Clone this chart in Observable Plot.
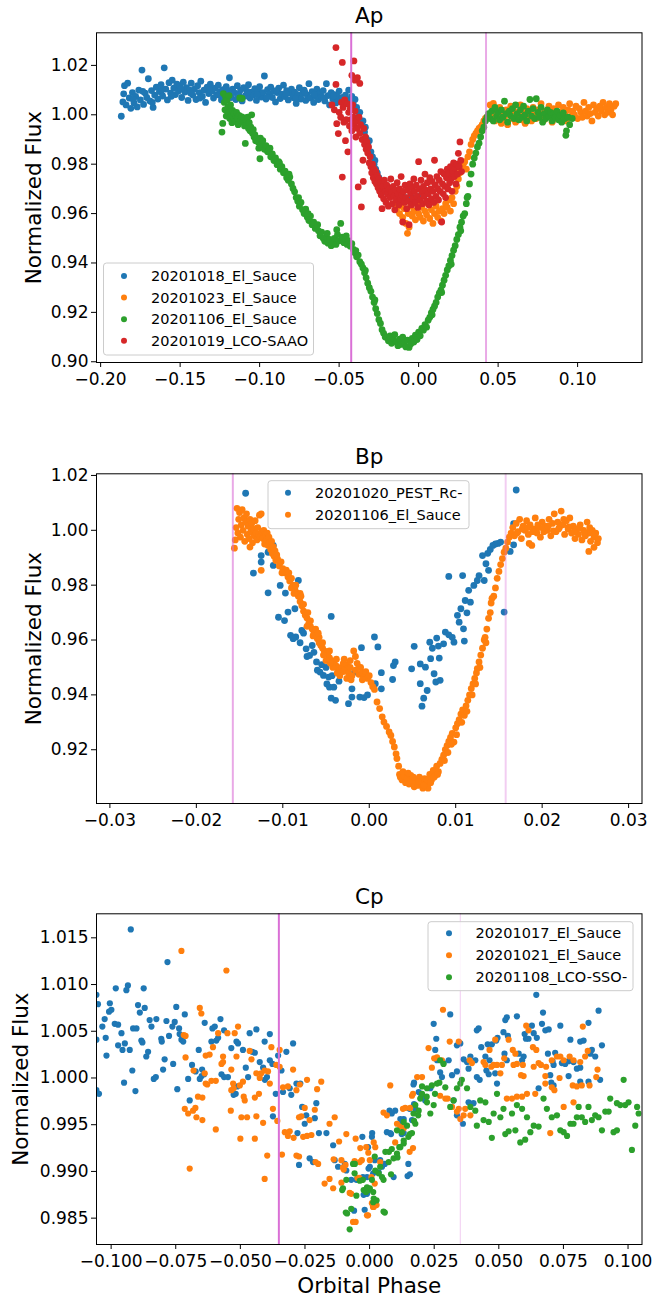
<!DOCTYPE html>
<html><head><meta charset="utf-8">
<script src="https://cdn.jsdelivr.net/npm/d3@7"></script>
<script src="https://cdn.jsdelivr.net/npm/@observablehq/plot@0.6"></script>
<style>body{margin:0;background:#fff}#chart svg{display:block}</style>
</head><body><div id="chart"></div>
<script>
// ---------- Panel Ap ----------
const apTitle = "Ap";
const apLabels = ["20201018_El_Sauce","20201023_El_Sauce","20201106_El_Sauce","20201019_LCO-SAAO"];
const apXTicks = [-0.20,-0.15,-0.10,-0.05,0.00,0.05,0.10];
const apYTicks = [0.90,0.92,0.94,0.96,0.98,1.00,1.02];
const apLines = [-0.0424, 0.0424];
const apBlue = [[-0.187,0.9994],[-0.186,1.0052],[-0.185,1.0118],[-0.184,1.0040],[-0.183,1.0128],[-0.182,1.0068],[-0.181,1.0026],[-0.180,1.0090],[-0.179,1.0048],[-0.178,1.0074],[-0.177,1.0032],[-0.176,1.0100],[-0.175,1.0060],[-0.174,1.0181],[-0.173,1.0042],[-0.172,1.0088],[-0.171,1.0070],[-0.170,1.0146],
[-0.169,1.0056],[-0.168,1.0098],[-0.167,1.0030],[-0.166,1.0080],[-0.165,1.0112],[-0.164,1.0064],[-0.163,1.0094],[-0.162,1.0122],[-0.161,1.0076],[-0.160,1.0190],[-0.159,1.0104],[-0.158,1.0060],[-0.157,1.0130],[-0.156,1.0088],[-0.155,1.0140],[-0.154,1.0108],[-0.153,1.0082],[-0.152,1.0124],[-0.151,1.0096],[-0.150,1.0116],
[-0.149,1.0070],[-0.148,1.0132],[-0.147,1.0092],[-0.146,1.0110],[-0.145,1.0058],[-0.144,1.0100],[-0.143,1.0128],[-0.142,1.0080],[-0.141,1.0104],[-0.140,1.0062],[-0.139,1.0118],[-0.138,1.0090],[-0.137,1.0136],[-0.136,1.0074],[-0.135,1.0100],[-0.134,1.0050],[-0.133,1.0112],[-0.132,1.0086],[-0.131,1.0124],[-0.130,1.0096],[-0.129,1.0068],[-0.128,1.0108],[-0.127,1.0082],[-0.126,1.0120],[-0.125,1.0094],[-0.124,1.0060],[-0.123,1.0102],[-0.122,1.0078],[-0.121,1.0114],[-0.120,1.0088],
[-0.119,1.0150],[-0.118,1.0070],[-0.117,1.0104],[-0.116,1.0090],[-0.115,1.0062],[-0.114,1.0118],[-0.113,1.0084],[-0.112,1.0100],[-0.111,1.0056],[-0.110,1.0110],[-0.109,1.0076],[-0.108,1.0096],[-0.107,1.0122],[-0.106,1.0068],[-0.105,1.0092],[-0.104,1.0080],[-0.103,1.0106],[-0.102,1.0058],[-0.101,1.0098],[-0.100,1.0114],[-0.099,1.0072],[-0.098,1.0090],[-0.097,1.0157],[-0.096,1.0064],[-0.095,1.0102],[-0.094,1.0084],[-0.093,1.0112],[-0.092,1.0070],[-0.091,1.0096],[-0.090,1.0052],
[-0.089,1.0090],[-0.088,1.0108],[-0.087,1.0066],[-0.086,1.0084],[-0.085,1.0120],[-0.084,1.0074],[-0.083,1.0098],[-0.082,1.0060],[-0.081,1.0088],[-0.080,1.0104],[-0.079,1.0070],[-0.078,1.0092],[-0.077,1.0046],[-0.076,1.0082],[-0.075,1.0110],[-0.074,1.0064],[-0.073,1.0086],[-0.072,1.0100],[-0.071,1.0058],[-0.070,1.0080],[-0.069,1.0126],[-0.068,1.0068],[-0.067,1.0094],[-0.066,1.0050],[-0.065,1.0076],[-0.064,1.0104],[-0.063,1.0062],[-0.062,1.0088],[-0.061,1.0072],[-0.060,1.0098],
[-0.059,1.0056],[-0.058,1.0126],[-0.057,1.0078],[-0.056,1.0040],[-0.055,1.0090],[-0.054,1.0064],[-0.053,1.0082],[-0.052,1.0048],[-0.051,1.0072],[-0.050,1.0096],[-0.049,1.0058],[-0.048,1.0070],[-0.047,1.0044],[-0.046,1.0080],[-0.045,1.0062],[-0.044,1.0100],[-0.043,1.0054],[-0.042,1.0074],[-0.041,1.0040],[-0.040,1.0062],
[-0.1855,1.0085],[-0.1795,1.0062],[-0.1735,1.0095],[-0.1675,1.0050],[-0.1615,1.0100],[-0.1555,1.0075],[-0.1495,1.0105],[-0.1435,1.0088],[-0.1375,1.0068],[-0.1315,1.0102],[-0.1255,1.0080],[-0.1195,1.0098],[-0.1135,1.0072],[-0.1075,1.0090],[-0.1015,1.0082],[-0.0955,1.0070],[-0.0895,1.0098],[-0.0835,1.0085],[-0.0775,1.0066],[-0.0715,1.0090],[-0.0655,1.0082],[-0.0595,1.0068],[-0.0535,1.0076],[-0.0475,1.0058],
[-0.039,1.0030],[-0.038,0.9990],[-0.037,1.0010],[-0.036,0.9960],[-0.035,0.9975],[-0.0335,0.9950],[-0.034,0.9930],[-0.033,0.9905],[-0.032,0.9880],[-0.031,0.9895],[-0.030,0.9850],[-0.029,0.9830],[-0.0275,0.9815],[-0.028,0.9800],[-0.027,0.9780],[-0.026,0.9765],[-0.025,0.9745],[-0.024,0.9730],[-0.023,0.9720],[-0.022,0.9712],[-0.0215,0.9690],[-0.020,0.9700],[-0.018,0.9690],[-0.016,0.9682],[-0.014,0.9676],[-0.012,0.9672],[-0.010,0.9668],[-0.008,0.9665],[-0.006,0.9662],[-0.004,0.9660],[-0.002,0.9665],[0.000,0.9670]];
const apOrange = [[-0.015,0.9640],[-0.014,0.9615],[-0.013,0.9650],[-0.012,0.9600],[-0.011,0.9630],[-0.010,0.9585],[-0.009,0.9620],[-0.008,0.9560],[-0.007,0.9520],[-0.0065,0.9600],[-0.006,0.9545],[-0.005,0.9630],[-0.004,0.9590],[-0.003,0.9610],[-0.002,0.9575],[-0.001,0.9640],[0.000,0.9600],[0.001,0.9585],[0.002,0.9625],[0.003,0.9570],[0.004,0.9610],[0.005,0.9595],[0.006,0.9640],[0.007,0.9580],[0.008,0.9615],[0.009,0.9560],[0.010,0.9600],[0.011,0.9630],[0.012,0.9585],[0.013,0.9610],[0.014,0.9570],[0.015,0.9620],[0.016,0.9600],[0.017,0.9640],[0.018,0.9625],[0.019,0.9655],[0.020,0.9610],[0.021,0.9665],[0.022,0.9640],[0.023,0.9690],[0.024,0.9710],[0.025,0.9740],[0.026,0.9765],[0.027,0.9790],[0.028,0.9800],[0.029,0.9810],[0.030,0.9780],[0.031,0.9830],[0.032,0.9850],[0.033,0.9880],[0.034,0.9900],[0.035,0.9915],[0.036,0.9925],[0.037,0.9935],[0.038,0.9945],[0.039,0.9950],[0.040,0.9960],[0.041,0.9975],[0.042,0.9985],[0.043,0.9990],[0.044,0.9995],
[0.045,1.0040],[0.046,0.9990],[0.047,1.0046],[0.048,0.9975],[0.049,1.0010],[0.050,0.9985],[0.051,1.0030],[0.052,0.9965],[0.053,1.0005],[0.054,0.9980],[0.055,1.0020],[0.056,0.9960],[0.057,1.0000],[0.058,1.0035],[0.059,0.9985],[0.060,1.0015],[0.061,0.9970],[0.062,1.0005],[0.063,0.9990],[0.064,1.0040],[0.065,0.9980],[0.066,1.0010],[0.067,0.9965],[0.068,1.0025],[0.069,0.9995],[0.070,1.0010],[0.071,0.9975],[0.072,1.0030],[0.073,1.0000],[0.074,0.9985],[0.075,1.0020],[0.076,0.9990],[0.077,1.0045],[0.078,1.0005],[0.079,0.9980],[0.080,1.0015],[0.081,0.9995],[0.082,1.0035],[0.083,1.0000],[0.084,0.9970],[0.085,1.0025],[0.086,1.0005],[0.087,0.9985],[0.088,1.0040],[0.089,1.0010],[0.090,0.9990],[0.091,1.0030],[0.092,1.0005],[0.093,0.9975],[0.094,1.0020],[0.095,1.0045],[0.096,0.9995],[0.097,1.0015],[0.098,1.0000],[0.099,1.0035],[0.100,0.9985],[0.101,1.0025],[0.102,1.0010],[0.103,0.9990],[0.104,1.0050],[0.105,1.0015],[0.106,0.9995],[0.107,1.0030],[0.108,1.0005],[0.109,0.9975],[0.110,1.0040],[0.111,1.0010],[0.112,1.0025],[0.113,0.9995],[0.114,1.0035],[0.115,1.0015],[0.116,1.0050],[0.117,1.0000],[0.118,1.0030],[0.119,1.0010],[0.120,1.0045],[0.121,1.0020],[0.122,1.0000],[0.123,1.0035],[0.124,1.0045]];
const apGreen = [[-0.1237,0.9930],[-0.1232,0.9965],[-0.1228,1.0086],[-0.1222,1.0050],[-0.1218,1.0020],[-0.1214,1.0072],[-0.1210,0.9995],[-0.1205,1.0058],[-0.1200,1.0030],[-0.1196,1.0008],[-0.1192,1.0078],[-0.1188,0.9985],[-0.1183,1.0040],[-0.1178,0.9998],[-0.1174,0.9968],[-0.1170,1.0018],[-0.1165,0.9990],[-0.1160,1.0005],[-0.1155,0.9975],[-0.1150,0.9995],[-0.1145,1.0010],[-0.1140,0.9985],[-0.1135,0.9960],[-0.1130,0.9998],[-0.1125,1.0068],[-0.1120,0.9980],[-0.1115,0.9992],[-0.1110,1.0066],[-0.1105,0.9970],[-0.1100,0.9988],[-0.1095,0.9955],[-0.1090,0.9884],[-0.1085,0.9978],[-0.1080,0.9960],[-0.1075,0.9990],[-0.1070,0.9945],[-0.1065,0.9968],[-0.1060,0.9935],[-0.1055,0.9950],[-0.1050,1.0000],[-0.1045,0.9925],[-0.1040,0.9940],[-0.1035,0.9910],[-0.1030,0.9920],[-0.1025,0.9895],[-0.1020,0.9905],[-0.1010,0.9890],[-0.1005,0.9865],[-0.0998,0.9822],
[-0.0995,0.9905],[-0.099,0.9880],[-0.098,0.9895],[-0.097,0.9860],[-0.096,0.9875],[-0.095,0.9850],[-0.094,0.9858],[-0.093,0.9830],[-0.092,0.9842],[-0.091,0.9815],[-0.090,0.9825],[-0.089,0.9798],[-0.088,0.9810],[-0.087,0.9780],[-0.086,0.9790],[-0.085,0.9765],[-0.084,0.9772],[-0.083,0.9745],[-0.082,0.9735],[-0.081,0.9748],[-0.080,0.9720],[-0.079,0.9702],[-0.078,0.9688],[-0.077,0.9665],[-0.076,0.9650],[-0.075,0.9630],[-0.074,0.9645],[-0.073,0.9615],[-0.072,0.9600],[-0.071,0.9618],[-0.070,0.9585],[-0.069,0.9572],[-0.068,0.9590],[-0.067,0.9555],[-0.066,0.9565],[-0.065,0.9540],[-0.064,0.9552],[-0.063,0.9530],[-0.062,0.9510],[-0.061,0.9525],[-0.060,0.9500],[-0.059,0.9488],[-0.058,0.9505],[-0.057,0.9480],[-0.056,0.9495],[-0.055,0.9470],[-0.054,0.9485],[-0.053,0.9500],[-0.052,0.9475],[-0.051,0.9515],[-0.050,0.9490],[-0.049,0.9560],[-0.048,0.9505],[-0.047,0.9482],[-0.046,0.9498],[-0.045,0.9475],[-0.044,0.9490],[-0.043,0.9468],[-0.042,0.9478],[-0.041,0.9455],[-0.040,0.9440],[-0.039,0.9425],[-0.038,0.9432],[-0.037,0.9405],[-0.036,0.9395],[-0.035,0.9380],[-0.034,0.9360],[-0.033,0.9340],[-0.032,0.9318],[-0.031,0.9300],[-0.030,0.9285],[-0.029,0.9262],[-0.028,0.9240],[-0.027,0.9215],[-0.026,0.9195],[-0.025,0.9170],[-0.024,0.9155],[-0.023,0.9130],[-0.022,0.9115],[-0.021,0.9100],[-0.020,0.9098],
[-0.0935,0.9865],[-0.0875,0.9805],[-0.0815,0.9760],[-0.0755,0.9665],[-0.0695,0.9600],[-0.0635,0.9555],[-0.0575,0.9520],[-0.0515,0.9535],[-0.0455,0.9510],[-0.0395,0.9450],[-0.0335,0.9370],[-0.0275,0.9250],
[-0.019,0.9085],[-0.018,0.9105],[-0.017,0.9075],[-0.016,0.9095],[-0.015,0.9110],[-0.014,0.9080],[-0.013,0.9065],[-0.012,0.9092],[-0.011,0.9070],[-0.010,0.9100],[-0.009,0.9078],[-0.008,0.9060],[-0.007,0.9088],[-0.006,0.9058],[-0.005,0.9072],[-0.004,0.9095],[-0.003,0.9080],[-0.002,0.9108],[-0.001,0.9090],
[0.000,0.9120],[0.001,0.9105],[0.002,0.9135],[0.003,0.9128],[0.004,0.9150],[0.005,0.9140],[0.006,0.9168],[0.007,0.9180],[0.008,0.9198],[0.009,0.9212],[0.010,0.9225],[0.011,0.9240],[0.012,0.9262],[0.013,0.9278],[0.014,0.9290],[0.015,0.9310],[0.016,0.9330],[0.017,0.9350],[0.018,0.9372],[0.019,0.9388],[0.020,0.9410],[0.021,0.9430],[0.022,0.9452],[0.023,0.9470],[0.024,0.9495],[0.025,0.9515],[0.026,0.9545],[0.027,0.9565],[0.028,0.9590],[0.029,0.9600],[0.030,0.9640],[0.0305,0.9665],[0.031,0.9670],[0.032,0.9720],[0.033,0.9760],[0.034,0.9800],[0.035,0.9825],[0.036,0.9845],[0.037,0.9870],[0.038,0.9885],[0.039,0.9910],[0.040,0.9935],[0.041,0.9950],[0.042,0.9975],[0.043,0.9990],[0.044,1.0005],
[0.0085,0.9190],[0.0145,0.9280],[0.0205,0.9395],[0.0265,0.9530],
[0.045,0.9985],[0.046,1.0015],[0.047,0.9975],[0.048,1.0030],[0.049,0.9995],[0.050,1.0010],[0.051,0.9980],[0.052,1.0020],[0.053,0.9990],[0.054,1.0055],[0.055,1.0005],[0.056,0.9970],[0.057,1.0015],[0.058,0.9995],[0.059,1.0025],[0.060,0.9985],[0.061,1.0040],[0.062,1.0005],[0.063,0.9980],[0.064,1.0020],[0.065,0.9990],[0.066,1.0035],[0.067,1.0000],[0.068,0.9975],[0.069,1.0015],[0.070,1.0062],[0.071,0.9995],[0.072,1.0025],[0.073,0.9985],[0.074,1.0065],[0.075,1.0010],[0.076,0.9990],[0.077,1.0030],[0.078,0.9970],[0.079,1.0005],[0.080,0.9985],[0.081,1.0020],[0.082,0.9995],[0.083,1.0010],[0.084,0.9975],[0.085,1.0005],[0.086,0.9990],[0.087,1.0015],[0.088,0.9980],[0.089,0.9998],[0.090,0.9970],[0.091,1.0008],[0.092,0.9985],[0.0926,0.9917],[0.093,0.9935],[0.094,0.9990],[0.095,0.9960],[0.0966,0.9985]];
const apRed = [[-0.0520,1.0272],[-0.0480,1.0212],[-0.0407,1.0218],[-0.0420,1.0160],[-0.0400,1.0140],[-0.0370,1.0127],[-0.0385,1.0150],[-0.0520,1.0123],[-0.0545,1.0040],[-0.0530,1.0020],[-0.0515,0.9964],[-0.0505,0.9924],[-0.0500,1.0010],[-0.0490,0.9990],[-0.0485,1.0050],[-0.0480,0.9748],[-0.0475,1.0030],[-0.0470,0.9970],[-0.0465,1.0060],[-0.0460,0.9895],[-0.0455,0.9980],[-0.0450,1.0045],[-0.0445,0.9850],[-0.0440,1.0010],[-0.0435,0.9955],[-0.0430,1.0025],[-0.0425,0.9980],[-0.0420,0.9935],[-0.0415,1.0040],[-0.0410,0.9990],[-0.0405,0.9960],[-0.0400,1.0015],[-0.0395,0.9910],[-0.0390,0.9975],[-0.0385,0.9945],[-0.0380,0.9708],[-0.0375,0.9990],[-0.0370,0.9925],[-0.0365,0.9960],[-0.0360,0.9627],[-0.0355,0.9900],[-0.0350,0.9816],[-0.0348,0.9730],[-0.0345,0.9945],[-0.0340,0.9880],[-0.0335,0.9910],[-0.0330,0.9860],[-0.0325,0.9890],[-0.0320,0.9845],[-0.0315,0.9870],[-0.0310,0.9805],[-0.0305,0.9830],[-0.0300,0.9790],
[-0.0295,0.9765],[-0.029,0.9800],[-0.0285,0.9745],[-0.028,0.9780],[-0.0275,0.9730],[-0.027,0.9770],[-0.0265,0.9720],[-0.026,0.9755],[-0.0255,0.9705],[-0.025,0.9740],[-0.0245,0.9690],[-0.024,0.9725],[-0.0235,0.9675],[-0.023,0.9620],[-0.0225,0.9710],[-0.022,0.9660],[-0.0215,0.9735],[-0.021,0.9690],[-0.0205,0.9645],[-0.020,0.9715],[-0.0195,0.9680],[-0.019,0.9630],[-0.0185,0.9700],[-0.018,0.9665],[-0.0175,0.9740],[-0.017,0.9685],[-0.0165,0.9640],[-0.016,0.9710],[-0.0155,0.9670],[-0.015,0.9615],[-0.0145,0.9695],[-0.014,0.9655],[-0.0135,0.9725],[-0.013,0.9680],[-0.0125,0.9635],[-0.012,0.9700],[-0.0115,0.9660],[-0.011,0.9750],[-0.0105,0.9675],[-0.010,0.9566],[-0.0095,0.9690],[-0.009,0.9645],[-0.0085,0.9715],[-0.008,0.9665],[-0.0075,0.9620],[-0.007,0.9695],[-0.0065,0.9650],[-0.006,0.9555],[-0.0055,0.9720],[-0.005,0.9680],[-0.0045,0.9635],[-0.004,0.9705],[-0.0035,0.9660],[-0.003,0.9740],[-0.0025,0.9690],[-0.002,0.9645],[-0.0015,0.9715],[-0.001,0.9670],[-0.0005,0.9625],[0.000,0.9810],[0.0005,0.9700],[0.001,0.9655],[0.0015,0.9735],[0.002,0.9685],[0.0025,0.9640],[0.003,0.9710],[0.0035,0.9670],[0.004,0.9760],[0.0045,0.9695],[0.005,0.9650],[0.0055,0.9725],[0.006,0.9680],[0.0065,0.9635],[0.007,0.9745],[0.0075,0.9700],[0.008,0.9660],[0.0085,0.9730],[0.009,0.9690],[0.0095,0.9645],[0.010,0.9816],[0.0105,0.9715],[0.011,0.9670],[0.0115,0.9750],[0.012,0.9700],[0.0125,0.9655],[0.013,0.9735],[0.0135,0.9690],[0.014,0.9770],[0.0145,0.9566],[0.015,0.9720],[0.0155,0.9680],[0.016,0.9760],[0.0165,0.9710],[0.017,0.9665],[0.0175,0.9745],[0.018,0.9780],[0.0185,0.9700],[0.019,0.9760],[0.0195,0.9725],[0.020,0.9790],[0.0205,0.9740],[0.021,0.9690],[0.0215,0.9770],[0.022,0.9805],[0.0225,0.9750],[0.023,0.9785],[0.0235,0.9720],[0.024,0.9800],[0.0245,0.9760],[0.025,0.9844],[0.0255,0.9790],[0.026,0.9890],[0.0265,0.9815],[0.027,0.9770]];

// ---------- Panel Bp ----------
const bpTitle = "Bp";
const bpLabels = ["20201020_PEST_Rc-","20201106_El_Sauce"];
const bpXTicks = [-0.03,-0.02,-0.01,0.00,0.01,0.02,0.03];
const bpYTicks = [0.92,0.94,0.96,0.98,1.00,1.02];
const bpLines = [-0.01578, 0.01578];
const bpBlue = [[-0.0143,1.0135],[-0.0134,0.9844],[-0.0125,0.9908],[-0.0125,0.9884],[-0.0117,0.9920],[-0.0117,0.9772],[-0.0111,0.9872],[-0.0111,0.9945],[-0.0105,0.9683],[-0.0103,0.9799],[-0.0098,0.9671],[-0.0097,0.9771],[-0.0094,0.9702],[-0.0091,0.9617],[-0.0086,0.9714],[-0.0085,0.9611],[-0.0082,0.9817],[-0.0078,0.9635],[-0.0076,0.9625],[-0.0073,0.9568],[-0.0069,0.9544],[-0.0066,0.9580],[-0.0061,0.9520],[-0.0057,0.9483],[-0.0053,0.9471],[-0.0050,0.9500],[-0.0047,0.9465],[-0.0046,0.9428],[-0.0044,0.9686],[-0.0044,0.9388],[-0.0041,0.9428],[-0.0039,0.9380],[-0.0035,0.9450],[-0.0024,0.9368],[-0.0020,0.9392],[-0.0020,0.9422],[-0.0017,0.9483],[-0.0011,0.9392],[-0.0009,0.9572],[-0.0006,0.9390],[0.0006,0.9611],[0.0007,0.9441],[0.0014,0.9481],[0.0014,0.9422],[0.0027,0.9456],[0.0028,0.9507],[0.0030,0.9520],[0.0049,0.9495],[0.0052,0.9577],[0.0059,0.9441],[0.0061,0.9359],[0.0063,0.9388],[0.0059,0.9513],[0.0065,0.9501],[0.0067,0.9416],[0.0071,0.9532],[0.0075,0.9477],[0.0077,0.9447],[0.0082,0.9453],[0.0081,0.9534],[0.0070,0.9592],[0.0073,0.9570],[0.0078,0.9607],[0.0080,0.9578],[0.0086,0.9586],[0.0088,0.9629],[0.0092,0.9619],[0.0096,0.9610],[0.0098,0.9592],[0.0110,0.9596],[0.0109,0.9641],[0.0102,0.9690],[0.0104,0.9665],[0.0113,0.9699],[0.0106,0.9714],[0.0111,0.9744],[0.0117,0.9738],[0.0115,0.9781],[0.0121,0.9799],[0.0127,0.9835],[0.0125,0.9817],[0.0133,0.9817],[0.0092,0.9832],[0.0108,0.9835],[0.0131,0.9908],[0.0135,0.9878],[0.0137,0.9916],[0.0140,0.9930],[0.0143,0.9945],[0.0146,0.9950],[0.0149,0.9952],[0.0152,0.9957],[0.0138,0.9854],[0.0156,0.9702],[0.0167,0.9947],[0.0167,1.0024],[0.0170,1.0147],[0.0163,0.9923],
[-0.0088,0.9605],[-0.0080,0.9590],[-0.0072,0.9540],[-0.0064,0.9555],[-0.0060,0.9490],[-0.0055,0.9510],[-0.0049,0.9440],[-0.0043,0.9470],[-0.0002,0.9400],[0.0010,0.9575]];
const bpOrange = [[-0.0156,0.9935],[-0.0155,0.9965],[-0.0154,1.0010],[-0.0153,1.0080],[-0.0152,0.9990],[-0.0151,1.0040],[-0.0150,1.0065],[-0.0149,0.9975],[-0.0148,1.0020],[-0.0147,1.0075],[-0.0146,1.0000],[-0.0145,1.0045],[-0.0144,0.9960],[-0.0143,1.0030],[-0.0142,1.0060],[-0.0141,0.9985],[-0.0140,1.0015],[-0.0139,0.9970],[-0.0138,1.0040],[-0.0137,0.9995],[-0.0136,1.0025],[-0.0135,0.9955],[-0.0134,1.0005],[-0.0133,0.9980],[-0.0132,1.0035],[-0.0131,0.9990],[-0.0130,0.9965],[-0.0129,1.0010],[-0.0128,0.9985],[-0.0127,1.0055],[-0.0126,0.9975],[-0.0125,1.0060],[-0.0124,0.9995],[-0.0123,0.9970],[-0.0122,1.0000],[-0.0121,0.9950],[-0.0120,0.9985],[-0.0119,0.9965],[-0.0118,0.9990],[-0.0117,0.9945],[-0.0116,0.9975],[-0.0115,0.9955],[-0.0114,0.9930],[-0.0113,0.9960],[-0.0112,0.9915],[-0.0111,0.9940],[-0.0110,0.9905],[-0.0109,0.9925],[-0.0108,0.9890],[-0.0107,0.9910],[-0.0125,0.9854],[-0.0138,0.9939],
[-0.0106,0.9895],[-0.0104,0.9870],[-0.0102,0.9885],[-0.0100,0.9860],[-0.0098,0.9845],[-0.0096,0.9855],[-0.0094,0.9830],[-0.0092,0.9815],[-0.0090,0.9825],[-0.0088,0.9800],[-0.0086,0.9785],[-0.0084,0.9772],[-0.0082,0.9760],[-0.0080,0.9740],[-0.0078,0.9725],[-0.0076,0.9705],[-0.0074,0.9690],[-0.0072,0.9680],[-0.0070,0.9660],[-0.0068,0.9650],[-0.0066,0.9640],[-0.0064,0.9625],[-0.0062,0.9615],[-0.0060,0.9605],[-0.0058,0.9590],[-0.0056,0.9580],[-0.0054,0.9570],[-0.0052,0.9560],[-0.0050,0.9550],[-0.0048,0.9545],[-0.0046,0.9535],[-0.0044,0.9525],[-0.0042,0.9520],[-0.0040,0.9510],[-0.0038,0.9505],[-0.0036,0.9498],[-0.0034,0.9490],[-0.0032,0.9500],[-0.0030,0.9485],[-0.0028,0.9495],[-0.0026,0.9510],[-0.0024,0.9480],[-0.0022,0.9500],[-0.0020,0.9470],[-0.0018,0.9560],[-0.0016,0.9490],[-0.0014,0.9515],[-0.0012,0.9475],[-0.0010,0.9500],[-0.0008,0.9480],[-0.0006,0.9465],[-0.0004,0.9485],[-0.0002,0.9460],[0.0000,0.9470],[0.0002,0.9445],[0.0004,0.9430],
[-0.0090,0.9790],[-0.0085,0.9800],[-0.0080,0.9770],[-0.0076,0.9730],[-0.0072,0.9650],[-0.0068,0.9670],[-0.0062,0.9640],[-0.0058,0.9610],[-0.0054,0.9590],[-0.0050,0.9525],[-0.0046,0.9560],[-0.0042,0.9500],[-0.0038,0.9530],[-0.0034,0.9470],[-0.0030,0.9515],[-0.0026,0.9460],[-0.0022,0.9525],[-0.0016,0.9540],[-0.0012,0.9500],[-0.0008,0.9455],
[-0.0101,0.9845],[-0.0093,0.9845],[-0.0087,0.9770],[-0.0079,0.9760],[-0.0071,0.9700],[-0.0065,0.9615],[-0.0059,0.9625],[-0.0053,0.9545],[-0.0045,0.9515],[-0.0037,0.9480],[-0.0029,0.9530],[-0.0021,0.9455],
[0.0006,0.9420],[0.0009,0.9374],[0.0012,0.9350],[0.0015,0.9320],[0.0017,0.9301],[0.0020,0.9285],[0.0023,0.9265],[0.0025,0.9252],[0.0027,0.9230],[0.0029,0.9210],[0.0031,0.9185],[0.0032,0.9168],[0.0034,0.9140],[0.0035,0.9110],[0.0036,0.9100],[0.0038,0.9090],[0.0040,0.9105],[0.0042,0.9080],[0.0044,0.9095],[0.0046,0.9075],[0.0048,0.9106],[0.0050,0.9085],[0.0052,0.9065],[0.0054,0.9090],[0.0056,0.9070],[0.0058,0.9100],[0.0060,0.9080],[0.0062,0.9060],[0.0064,0.9095],[0.0066,0.9075],[0.0068,0.9060],[0.0070,0.9110],[0.0072,0.9090],[0.0074,0.9125],[0.0076,0.9105],[0.0078,0.9140],[0.0080,0.9120],[0.0082,0.9150],[0.0084,0.9165],[0.0086,0.9180],[0.0088,0.9200],[0.0090,0.9215],[0.0092,0.9230],[0.0094,0.9245],[0.0096,0.9260],[0.0098,0.9228],[0.0100,0.9280],[0.0102,0.9295],[0.0104,0.9310],[0.0106,0.9330],[0.0108,0.9345],[0.0110,0.9325],[0.0112,0.9360],[0.0114,0.9380],[0.0116,0.9400],[0.0118,0.9423],[0.0120,0.9440],[0.0122,0.9460],[0.0124,0.9480],[0.0125,0.9496],[0.0127,0.9520],[0.0129,0.9545],[0.0131,0.9570],[0.0133,0.9600],[0.0134,0.9610],[0.0136,0.9640],[0.0138,0.9679],[0.0140,0.9700],[0.0142,0.9752],[0.0144,0.9760],[0.0146,0.9790],[0.0148,0.9825],[0.0150,0.9850],[0.0152,0.9875],[0.0154,0.9897],[0.0156,0.9920],[0.0158,0.9935],[0.0160,0.9957],[0.0162,0.9975],[0.0164,0.9990],
[0.0039,0.9120],[0.0045,0.9115],[0.0051,0.9100],[0.0057,0.9085],[0.0063,0.9070],[0.0067,0.9090],[0.0071,0.9080],[0.0075,0.9100],[0.0079,0.9110],[0.0087,0.9160],[0.0091,0.9190],[0.0095,0.9220],[0.0101,0.9255],[0.0107,0.9300],[0.0113,0.9340],[0.0119,0.9400],[0.0123,0.9440],[0.0128,0.9500],[0.0135,0.9590],[0.0141,0.9735],
[0.0166,1.0010],[0.0168,0.9980],[0.0170,1.0025],[0.0172,0.9995],[0.0174,1.0040],[0.0176,0.9970],[0.0178,1.0015],[0.0180,1.0000],[0.0182,1.0035],[0.0184,0.9985],[0.0186,1.0020],[0.0188,0.9945],[0.0190,1.0005],[0.0192,1.0045],[0.0194,0.9990],[0.0196,1.0010],[0.0198,0.9975],[0.0200,1.0030],[0.0202,0.9995],[0.0204,1.0015],[0.0206,1.0000],[0.0208,1.0040],[0.0210,0.9980],[0.0212,1.0025],[0.0214,1.0060],[0.0216,0.9995],[0.0218,1.0030],[0.0220,1.0010],[0.0222,1.0070],[0.0224,1.0020],[0.0226,0.9985],[0.0228,1.0035],[0.0230,1.0005],[0.0232,1.0045],[0.0234,0.9990],[0.0236,1.0015],[0.0238,0.9970],[0.0240,1.0005],[0.0242,0.9985],[0.0244,1.0020],[0.0246,0.9965],[0.0248,1.0000],[0.0250,0.9980],[0.0252,1.0030],[0.0254,0.9990],[0.0256,0.9960],[0.0258,1.0000],[0.0260,0.9975],[0.0262,0.9990],[0.0264,0.9955],[0.0265,0.9970],
[0.0171,0.9990],[0.0177,1.0005],[0.0183,1.0010],[0.0189,0.9995],[0.0195,1.0020],[0.0201,1.0008],[0.0207,1.0015],[0.0213,0.9998],[0.0219,1.0005],[0.0225,1.0040],[0.0231,1.0012],[0.0237,0.9995],[0.0243,1.0008],[0.0249,0.9990],[0.0255,1.0010],[0.0261,0.9985],[0.0185,0.9952],[0.0254,0.9923],[0.0260,0.9938]];

// ---------- Panel Cp ----------
const cpTitle = "Cp";
const cpLabels = ["20201017_El_Sauce","20201021_El_Sauce","20201108_LCO-SSO-"];
const cpXTicks = [-0.100,-0.075,-0.050,-0.025,0.000,0.025,0.050,0.075,0.100];
const cpYTicks = [0.985,0.990,0.995,1.000,1.005,1.010,1.015];
const cpLines = [-0.0351, 0.0351];
const cpBlue = [[-0.0924,1.0159],[-0.0782,1.0124],[-0.0935,1.0099],[-0.0941,1.0094],[-0.0982,1.0096],[-0.0874,1.0096],[-0.1057,1.0089],[-0.1051,1.0079],[-0.1005,1.0080],[-0.0999,1.0073],[-0.1008,1.0071],[-0.0896,1.0078],[-0.0889,1.0070],[-0.0870,1.0075],[-0.1034,1.0055],[-0.1025,1.0063],[-0.1057,1.0041],[-0.1021,1.0043],[-0.0986,1.0058],[-0.0973,1.0057],[-0.0960,1.0048],[-0.0915,1.0053],[-0.0902,1.0053],[-0.0851,1.0062],[-0.0825,1.0063],[-0.0844,1.0055],[-0.0786,1.0061],[-0.0754,1.0060],[-0.0763,1.0055],[-0.0748,1.0076],[-0.0715,1.0068],[-0.0737,1.0053],[-0.0735,1.0047],[-0.0883,1.0040],[-0.0879,1.0038],[-0.0973,1.0035],[-0.0947,1.0037],[-0.0928,1.0030],[-0.0956,1.0030],[-0.1018,1.0024],[-0.1057,0.9987],[-0.1047,0.9983],[-0.0950,0.9995],[-0.0906,0.9986],[-0.0918,1.0008],[-0.0857,1.0028],[-0.0864,1.0023],[-0.0835,0.9999],[-0.0827,1.0001],[-0.0806,1.0042],[-0.0804,1.0039],[-0.0793,1.0020],[-0.0799,1.0009],[-0.0776,1.0045],[-0.0760,1.0015],[-0.0744,0.9988],[-0.0728,1.0041],[-0.0721,1.0039],[-0.0702,0.9999],[-0.0696,0.9976],[-0.0687,1.0014],[-0.0673,1.0007],[-0.0661,1.0030],[-0.0648,1.0009],[-0.0657,0.9999],[-0.0650,1.0002],[-0.0640,1.0004],[-0.0638,1.0059],[-0.0608,1.0053],[-0.0599,1.0055],[-0.0612,1.0039],[-0.0593,1.0040],[-0.0586,1.0043],[-0.0577,1.0063],[-0.0563,1.0051],[-0.0535,1.0032],[-0.0515,1.0039],[-0.0509,1.0037],[-0.0573,1.0004],[-0.0563,1.0001],[-0.0548,1.0001],[-0.0526,0.9982],[-0.0518,0.9983],[-0.0512,0.9991],[-0.0490,1.0030],[-0.0479,1.0011],[-0.0470,1.0001],[-0.0464,1.0048],[-0.0438,1.0052],[-0.0454,1.0028],[-0.0444,1.0027],[-0.0425,1.0017],[-0.0412,1.0011],[-0.0386,1.0047],[-0.0406,1.0039],[-0.0386,1.0019],[-0.0376,1.0015],[-0.0405,0.9998],[-0.0397,1.0001],[-0.0363,0.9983],[-0.0354,1.0024],[-0.0374,0.9959],[-0.0341,1.0008],[-0.0335,0.9985],[-0.0322,1.0028],[-0.0309,0.9989],[-0.0303,0.9982],[-0.0296,1.0037],[-0.0283,0.9994],[-0.0268,0.9994],[-0.0261,0.9969],[-0.0251,0.9951],[-0.0245,0.9960],[-0.0212,0.9957],[-0.0206,0.9973],[-0.0279,0.9941],[-0.0273,0.9907],[-0.0232,0.9914],[-0.0219,0.9910],[-0.0167,0.9941],[-0.0196,0.9941],[-0.0141,0.9928],[-0.0135,0.9912],[-0.0122,0.9905],[-0.0096,0.9908],[-0.0090,0.9901],[-0.0071,0.9891],[-0.0051,0.9891],[-0.0026,0.9894],[-0.0028,0.9937],[0.0010,0.9941],[-0.0060,0.9858],[-0.0019,0.9859],[0.0001,0.9905],[0.0014,0.9898],[0.0020,0.9912],[0.0035,0.9899],[0.0059,0.9908],[0.0083,0.9940],[0.0099,0.9965],[0.0124,0.9940],[0.0156,0.9897],[0.0150,0.9908],[0.0132,0.9956],[0.0172,0.9972],[0.0172,0.9995],[-0.0006,0.9926],
[0.0645,1.0089],[0.0886,1.0072],[0.0671,1.0070],[0.0312,1.0068],[0.0248,1.0058],[0.0525,1.0062],[0.0531,1.0065],[0.0570,1.0066],[0.0415,1.0051],[0.0422,1.0053],[0.0535,1.0045],[0.0518,1.0049],[0.0600,1.0047],[0.0628,1.0056],[0.0635,1.0048],[0.0647,1.0043],[0.0667,1.0058],[0.0680,1.0051],[0.0693,1.0052],[0.0738,1.0056],[0.0847,1.0059],[0.0777,1.0041],[0.0815,1.0039],[0.0828,1.0040],[0.0899,1.0035],[0.0860,1.0030],[0.0258,1.0042],[0.0254,1.0030],[0.0432,1.0033],[0.0457,1.0036],[0.0473,1.0036],[0.0490,1.0040],[0.0495,1.0043],[0.0522,1.0026],[0.0531,1.0019],[0.0577,1.0026],[0.0596,1.0023],[0.0590,1.0019],[0.0605,1.0042],[0.0615,1.0042],[0.0690,1.0026],[0.0708,1.0018],[0.0718,1.0027],[0.0744,1.0016],[0.0757,1.0015],[0.0770,1.0018],[0.0789,1.0017],[0.0802,1.0010],[0.0815,1.0011],[0.0854,1.0026],[0.0873,1.0023],[0.0770,1.0002],[0.0815,0.9996],[0.0847,0.9996],[0.0892,0.9998],[0.0654,0.9989],[0.0699,1.0003],[0.0712,1.0014],[0.0712,0.9992],[0.0703,0.9995],[0.0448,1.0023],[0.0464,1.0019],[0.0390,1.0023],[0.0409,1.0019],[0.0452,1.0008],[0.0461,1.0004],[0.0486,1.0005],[0.0493,0.9994],[0.0351,1.0037],[0.0338,1.0035],[0.0364,1.0020],[0.0377,1.0017],[0.0383,1.0010],[0.0415,1.0001],[0.0426,0.9998],[0.0261,1.0019],[0.0286,1.0016],[0.0306,1.0019],[0.0273,1.0006],[0.0280,1.0001],[0.0170,0.9993],[0.0190,0.9985],[0.0200,0.9982],[0.0235,0.9989],[0.0319,1.0003],[0.0338,1.0007],[0.0325,0.9976],[0.0402,0.9973],[0.0338,0.9960],[0.0361,0.9951],[0.0383,0.9974],[0.0215,0.9976],[0.0203,0.9980],[0.0177,0.9967],[0.0155,0.9967],[0.0164,0.9955],[0.0119,0.9956],[0.0125,0.9951],[0.0077,0.9965],[0.0086,0.9962],[0.0067,0.9942],[0.0080,0.9941],[0.0132,0.9941],[0.0009,0.9937],[0.0041,0.9912],[0.0048,0.9905],[-0.0004,0.9903],[0.0093,0.9894],[0.0147,0.9895],[-0.0023,0.9875],[-0.0010,0.9876],[-0.0010,0.9894]];
const cpOrange = [[-0.0728,1.0136],[-0.0554,1.0115],[-0.0657,1.0075],[-0.0651,1.0069],[-0.0719,1.0046],[-0.0712,1.0045],[-0.0606,1.0033],[-0.0586,1.0048],[-0.0550,1.0048],[-0.0522,1.0048],[-0.0509,1.0055],[-0.0712,1.0022],[-0.0634,1.0024],[-0.0619,1.0025],[-0.0567,1.0023],[-0.0515,1.0023],[-0.0464,1.0029],[-0.0457,1.0020],[-0.0380,1.0033],[-0.0348,1.0030],[-0.0361,1.0014],[-0.0348,1.0012],[-0.0681,1.0008],[-0.0638,1.0005],[-0.0628,0.9993],[-0.0612,0.9997],[-0.0595,0.9997],[-0.0573,1.0015],[-0.0567,1.0017],[-0.0535,1.0009],[-0.0528,0.9994],[-0.0634,0.9994],[-0.0502,0.9992],[-0.0490,0.9996],[-0.0487,0.9980],[-0.0483,0.9976],[-0.0535,0.9987],[-0.0526,0.9989],[-0.0438,1.0005],[-0.0425,1.0000],[-0.0419,1.0005],[-0.0406,1.0008],[-0.0393,1.0007],[-0.0386,0.9994],[-0.0428,0.9983],[-0.0444,0.9979],[-0.0664,0.9980],[-0.0647,0.9979],[-0.0715,0.9967],[-0.0702,0.9962],[-0.0683,0.9965],[-0.0674,0.9968],[-0.0670,0.9958],[-0.0647,0.9955],[-0.0595,0.9945],[-0.0537,0.9965],[-0.0496,0.9958],[-0.0474,0.9958],[-0.0438,0.9959],[-0.0412,0.9952],[-0.0374,0.9967],[-0.0357,0.9954],[-0.0444,0.9935],[-0.0500,0.9935],[-0.0396,0.9917],[-0.0406,0.9892],[-0.0696,0.9903],[-0.0339,0.9918],[-0.0335,0.9990],[-0.0316,0.9991],[-0.0296,1.0009],[-0.0283,0.9987],[-0.0270,0.9993],[-0.0328,0.9942],[-0.0309,0.9943],[-0.0316,0.9938],[-0.0294,0.9936],[-0.0273,0.9958],[-0.0264,0.9959],[-0.0251,0.9968],[-0.0232,0.9955],[-0.0212,0.9966],[-0.0242,0.9998],[-0.0203,0.9988],[-0.0187,0.9996],[-0.0283,0.9917],[-0.0273,0.9916],[-0.0257,0.9937],[-0.0242,0.9938],[-0.0225,0.9939],[-0.0209,0.9910],[-0.0199,0.9908],[-0.0155,0.9951],[-0.0135,0.9958],[-0.0118,0.9932],[-0.0090,0.9940],[-0.0054,0.9935],[-0.0139,0.9913],[-0.0109,0.9912],[-0.0093,0.9907],[-0.0174,0.9887],[-0.0155,0.9892],[-0.0141,0.9882],[-0.0109,0.9888],[-0.0103,0.9904],[-0.0100,0.9902],[-0.0077,0.9877],[-0.0071,0.9876],[-0.0058,0.9911],[-0.0038,0.9910],[-0.0047,0.9893],[-0.0040,0.9893],[-0.0064,0.9846],[-0.0006,0.9853],[0.0007,0.9894],[0.0020,0.9887],[0.0009,0.9866],[0.0013,0.9862],[0.0001,0.9912],[-0.0013,0.9926],[-0.0005,0.9920],[-0.0054,0.9846],[0.0027,0.9864],
[0.0284,1.0073],[0.0310,1.0039],[0.0345,1.0039],[0.0228,1.0032],[0.0250,1.0021],[0.0241,1.0011],[0.0261,1.0022],[0.0280,1.0019],[0.0387,1.0019],[0.0396,1.0016],[0.0441,1.0017],[0.0448,1.0014],[0.0464,1.0030],[0.0486,1.0041],[0.0471,1.0012],[0.0480,1.0014],[0.0493,1.0014],[0.0506,1.0005],[0.0512,1.0014],[0.0521,1.0021],[0.0538,1.0041],[0.0554,1.0030],[0.0564,1.0026],[0.0557,1.0014],[0.0570,1.0015],[0.0593,1.0014],[0.0606,1.0056],[0.0615,1.0051],[0.0632,1.0033],[0.0645,1.0030],[0.0635,1.0012],[0.0654,1.0016],[0.0663,1.0014],[0.0683,1.0012],[0.0705,1.0019],[0.0725,1.0023],[0.0738,1.0023],[0.0751,1.0019],[0.0774,1.0023],[0.0789,1.0019],[0.0815,1.0017],[0.0825,1.0055],[0.0834,1.0023],[0.0844,1.0029],[0.0882,1.0009],[0.0877,1.0001],[0.0586,1.0003],[0.0596,1.0002],[0.0680,1.0002],[0.0680,0.9994],[0.0735,1.0000],[0.0786,0.9992],[0.0802,0.9991],[0.0821,0.9992],[0.0851,0.9992],[0.0609,0.9983],[0.0641,0.9983],[0.0531,0.9978],[0.0551,0.9978],[0.0570,0.9980],[0.0590,0.9980],[0.0705,0.9990],[0.0715,0.9987],[0.0751,0.9969],[0.0789,0.9974],[0.0699,0.9941],[0.0080,0.9992],[0.0164,0.9981],[0.0168,0.9983],[0.0203,1.0001],[0.0184,1.0001],[0.0273,0.9981],[0.0293,0.9978],[0.0302,0.9978],[0.0157,0.9968],[0.0138,0.9968],[0.0129,0.9967],[0.0319,0.9969],[0.0338,0.9964],[0.0345,0.9967],[0.0370,0.9967],[0.0390,0.9960],[0.0364,0.9960],[0.0351,0.9956],[0.0054,0.9963],[0.0067,0.9960],[0.0106,0.9951],[0.0119,0.9948],[0.0132,0.9946],[0.0168,0.9925],[0.0155,0.9921],[0.0099,0.9931],[0.0016,0.9931],[0.0022,0.9926],[-0.0036,0.9925],[-0.0030,0.9912],[0.0041,0.9910],[0.0016,0.9862],[-0.0010,0.9853],[-0.0030,0.9891]];
const cpGreen = [[-0.0064,0.9908],[-0.0058,0.9898],[-0.0090,0.9891],[-0.0103,0.9882],[-0.0106,0.9880],[-0.0051,0.9874],[-0.0026,0.9891],[-0.0015,0.9880],[0.0001,0.9882],[0.0014,0.9878],[0.0020,0.9916],[-0.0071,0.9860],[-0.0092,0.9856],[-0.0077,0.9838],[0.0014,0.9867],[-0.0087,0.9855],[-0.0057,0.9908],[-0.0038,0.9890],[-0.0014,0.9878],[0.0027,0.9869],[0.0059,0.9856],[0.0075,0.9921],[0.0083,0.9897],[0.0108,0.9915],[0.0115,0.9926],[0.0132,0.9933],[0.0150,0.9937],[0.0156,0.9940],[0.0172,0.9954],[0.0188,0.9960],[0.0221,0.9980],[0.0253,0.9983],[0.0270,0.9995],
[0.0054,0.9857],[0.0016,0.9871],[-0.0004,0.9880],[-0.0023,0.9880],[0.0054,0.9891],[0.0048,0.9894],[0.0035,0.9898],[0.0022,0.9901],[-0.0010,0.9883],[0.0009,0.9891],[0.0041,0.9905],[0.0074,0.9910],[0.0093,0.9914],[0.0106,0.9919],[0.0061,0.9921],[0.0086,0.9924],[0.0119,0.9926],[0.0132,0.9930],[0.0164,0.9941],[0.0125,0.9942],[0.0106,0.9944],[0.0177,0.9951],[0.0145,0.9949],[0.0132,0.9953],[0.0170,0.9962],[0.0190,0.9965],[0.0177,0.9971],[0.0196,0.9978],[0.0203,0.9983],[0.0222,0.9974],[0.0235,0.9962],[0.0248,0.9971],[0.0203,0.9991],[0.0222,0.9989],[0.0241,0.9992],[0.0261,0.9994],[0.0273,1.0019],[0.0286,1.0015],[0.0293,0.9990],[0.0312,0.9969],[0.0325,0.9976],[0.0338,0.9989],[0.0351,0.9994],[0.0357,0.9998],[0.0377,0.9989],[0.0390,0.9969],[0.0409,0.9965],[0.0428,0.9976],[0.0448,0.9974],[0.0415,0.9949],[0.0441,0.9955],[0.0461,0.9953],[0.0480,0.9962],[0.0493,0.9983],[0.0506,0.9958],[0.0518,0.9967],[0.0473,0.9936],[0.0525,0.9940],[0.0538,0.9943],[0.0551,0.9962],[0.0570,0.9971],[0.0590,0.9967],[0.0564,0.9944],[0.0583,0.9931],[0.0602,0.9934],[0.0609,0.9958],[0.0622,0.9942],[0.0635,0.9949],[0.0654,0.9948],[0.0673,0.9978],[0.0686,0.9967],[0.0705,0.9958],[0.0725,0.9960],[0.0738,0.9944],[0.0751,0.9942],[0.0764,0.9938],[0.0777,0.9951],[0.0789,0.9951],[0.0802,0.9958],[0.0809,0.9969],[0.0821,0.9958],[0.0834,0.9953],[0.0847,0.9969],[0.0860,0.9955],[0.0873,0.9960],[0.0886,0.9958],[0.0899,0.9944],[0.0912,0.9964],[0.0925,0.9964],[0.0931,0.9978],[0.0957,0.9973],[0.0970,0.9971],[0.0983,0.9998],[0.0989,0.9971],[0.1002,0.9974],[0.1015,0.9923],[0.1028,0.9949],[0.1035,0.9969],[0.1041,0.9962],[0.0944,0.9942],[0.0957,0.9944]];

// ---------- rendering ----------
const COLORS = ["#1f77b4","#ff7f0e","#2ca02c","#d62728"];
const FONT = "DejaVu Sans";
const fmt = n => d => (d < 0 ? "\u2212" : "") + Math.abs(d).toFixed(n);

function panel(cfg) {
  const marks = [];
  cfg.series.forEach((s, i) => marks.push(Plot.dot(s, {x: d => d[0], y: d => d[1], fill: COLORS[i], r: cfg.r, clip: true})));
  cfg.lines.forEach((x, i) => marks.push(Plot.ruleX([x], {x: d => d, stroke: "orchid", strokeOpacity: cfg.lineOpacity[i], strokeWidth: cfg.lineWidth[i]})));
  marks.push(Plot.frame({stroke: "black", strokeWidth: 1}));
  marks.push(Plot.axisX({ticks: cfg.xTicks, tickFormat: fmt(cfg.xDec), tickSize: 5, tickPadding: 5, fontSize: 17, label: null, stroke: "black"}));
  marks.push(Plot.axisY({ticks: cfg.yTicks, tickFormat: fmt(cfg.yDec), tickSize: 5, tickPadding: 3, fontSize: 17, label: null, stroke: "black"}));
  marks.push(Plot.text([cfg.title], {text: d => d, frameAnchor: "top", lineAnchor: "bottom", dy: -9.6, fontSize: 21.5}));
  marks.push(Plot.text(["Normalized Flux"], {text: d => d, frameAnchor: "left", textAnchor: "middle", rotate: -90, lineAnchor: "bottom", dx: cfg.ylabDx, fontSize: 21.5}));
  if (cfg.xLabel) marks.push(Plot.text([cfg.xLabel], {text: d => d, frameAnchor: "bottom", lineAnchor: "bottom", dy: 48.5, fontSize: 21.5}));
  const svg = Plot.plot({
    width: 652, height: cfg.height,
    marginLeft: 96, marginRight: 10.5, marginTop: cfg.mt, marginBottom: cfg.mb,
    x: {domain: cfg.xDomain}, y: {domain: cfg.yDomain},
    style: {fontFamily: FONT, fontSize: "17px", color: "black", background: "white", overflow: "visible"},
    marks
  });
  const L = cfg.legend;
  const g = d3.select(svg).append("g").attr("font-family", FONT).attr("font-size", 14.5).attr("text-anchor", "start");
  g.append("rect").attr("x", L.x).attr("y", L.y).attr("width", L.w).attr("height", L.h).attr("rx", 3)
    .attr("fill", "white").attr("fill-opacity", 0.8).attr("stroke", "#cccccc").attr("stroke-width", 1);
  cfg.labels.forEach((lab, i) => {
    const cy = L.y + L.first + i * L.step;
    g.append("circle").attr("cx", L.mx).attr("cy", cy).attr("r", 3).attr("fill", COLORS[i]);
    g.append("text").attr("x", L.tx).attr("y", cy).attr("dy", "0.35em").attr("text-anchor", "start").attr("fill", "black").text(lab);
  });
  return svg;
}

const root = document.getElementById("chart");
root.append(panel({
  series: [apBlue, apOrange, apGreen, apRed], labels: apLabels, title: apTitle,
  xTicks: apXTicks, yTicks: apYTicks, xDec: 2, yDec: 2, lines: apLines,
  lineOpacity: [1, 0.6], lineWidth: [2, 2], r: 3.4, ylabDx: -56,
  xDomain: [-0.2026, 0.1405], yDomain: [0.8997, 1.0332],
  height: 430, mt: 32.3, mb: 68,
  legend: {x: 103.5, y: 263, w: 210, h: 92, first: 13, step: 21.6, mx: 124, tx: 151}
}));
root.append(panel({
  series: [bpBlue, bpOrange], labels: bpLabels, title: bpTitle,
  xTicks: bpXTicks, yTicks: bpYTicks, xDec: 2, yDec: 2, lines: bpLines,
  lineOpacity: [0.6, 0.35], lineWidth: [2, 2], r: 3.4, ylabDx: -56,
  xDomain: [-0.03155, 0.03155], yDomain: [0.9004, 1.0206],
  height: 450, mt: 43.3, mb: 77,
  legend: {x: 268, y: 50.7, w: 201, h: 48, first: 12, step: 22, mx: 288, tx: 315}
}));
root.append(panel({
  series: [cpBlue, cpOrange, cpGreen], labels: cpLabels, title: cpTitle, xLabel: "Orbital Phase",
  xTicks: cpXTicks, yTicks: cpYTicks, xDec: 3, yDec: 3, lines: cpLines,
  lineOpacity: [1, 0.35], lineWidth: [2, 1], r: 3.1, ylabDx: -69,
  xDomain: [-0.10566, 0.1054], yDomain: [0.98218, 1.01757],
  height: 416, mt: 33.3, mb: 52,
  legend: {x: 428, y: 41.7, w: 205, h: 69, first: 11.6, step: 22, mx: 449, tx: 475.6}
}));
</script>
</body></html>
